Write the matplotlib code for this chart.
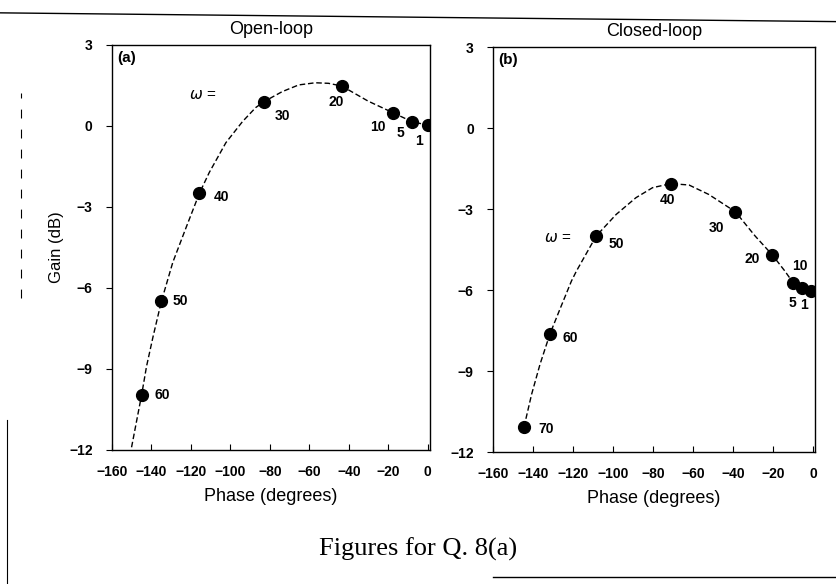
"""Open-loop vs closed-loop gain/phase (Nichols-style) plots for Q. 8(a)."""
import matplotlib.pyplot as plt
from matplotlib.lines import Line2D

plt.rcParams["font.family"] = ["Liberation Sans", "DejaVu Sans"]

# open-loop: marked frequencies and the dashed curve
open_omega = ["1", "5", "10", "20", "30", "40", "50", "60"]
open_phase = [0, -8, -17.6, -43.6, -83, -115.7, -135, -145]
open_gain = [0.03, 0.16, 0.49, 1.48, 0.9, -2.49, -6.5, -9.96]
open_curve_phase = [-150.1, -145, -142.5, -139.2, -135, -129.2, -122.4,
                    -115.7, -110.7, -102.3, -93.9, -87.2, -83, -73.8, -65.4,
                    -57, -50.3, -43.6, -30.2, -17.6, -8, 0]
open_curve_gain = [-11.9, -9.96, -8.9, -7.8, -6.5, -5.05, -3.75, -2.49,
                   -1.72, -0.62, 0.16, 0.68, 0.9, 1.27, 1.52, 1.6, 1.58,
                   1.48, 0.92, 0.49, 0.16, 0.03]

# closed-loop
closed_omega = ["1", "5", "10", "20", "30", "40", "50", "60", "70"]
closed_phase = [-0.9, -5.5, -10, -20.4, -38.9, -71.2, -108.5, -131.7, -144.6]
closed_gain = [-6.04, -5.94, -5.73, -4.7, -3.1, -2.06, -4.0, -7.64, -11.07]
closed_curve_phase = [-144.6, -140.8, -136.6, -131.7, -126.7, -120.9, -118.4,
                      -108.5, -98.5, -88.6, -80.3, -71.2, -62.1, -52.2,
                      -38.9, -29, -20.4, -14.1, -10, -5.5, -0.9]
closed_curve_gain = [-11.07, -9.86, -8.75, -7.64, -6.72, -5.67, -5.3, -4.0,
                     -3.2, -2.58, -2.21, -2.06, -2.11, -2.46, -3.1, -4.0,
                     -4.7, -5.3, -5.73, -5.94, -6.04]

x_ticks = [-160, -140, -120, -100, -80, -60, -40, -20, 0]
y_ticks = [3, 0, -3, -6, -9, -12]

# label offsets in pixels (dx right, dy down) for each marked point
open_offsets = [(-9, 16), (-12, 11), (-15, 14), (-6, 16), (18, 14),
                (22, 4), (19, 0), (21, 0)]
closed_offsets = [(-7, 14), (-10, 15), (7, -17), (-20, 4), (-19, 16),
                  (-3, 16), (20, 8), (20, 4), (22, 2)]


def draw_panel(ax, curve_x, curve_y, px, py, omegas, offsets, tag, omega_xy):
    ax.plot(curve_x, curve_y, color="black", lw=1.0, dashes=(4, 2))
    ax.plot(px, py, "o", color="black", ms=8.5, zorder=3)
    for name, x, y, (dx, dy) in zip(omegas, px, py, offsets):
        ax.annotate(name, (x, y), xytext=(dx, -dy), textcoords="offset pixels",
                    ha="center", va="center", fontsize=10, fontweight="bold")
    ax.text(omega_xy[0], omega_xy[1], "$\\omega$ =", fontsize=11,
            ha="center", va="center")
    ax.text(0.015, 0.985, tag, transform=ax.transAxes, ha="left", va="top",
            fontsize=11, fontweight="bold")
    ax.set_xlim(-160, 1)
    ax.set_ylim(-12, 3)
    ax.set_xticks(x_ticks)
    ax.set_yticks(y_ticks)
    ax.tick_params(axis="x", direction="in", length=4, pad=11, labelsize=10)
    ax.tick_params(axis="y", direction="out", length=4, pad=10, labelsize=10)
    for lab in ax.get_xticklabels() + ax.get_yticklabels():
        lab.set_fontweight("bold")
    for spine in ax.spines.values():
        spine.set_linewidth(1.0)
    ax.set_xlabel("Phase (degrees)", fontsize=13, labelpad=6)


fig = plt.figure(figsize=(8.36, 5.84), dpi=100)
ax_open = fig.add_axes([0.134, 0.2295, 0.380, 0.6935])
ax_closed = fig.add_axes([0.590, 0.226, 0.385, 0.6935])

draw_panel(ax_open, open_curve_phase, open_curve_gain, open_phase, open_gain,
           open_omega, open_offsets, "(a)", (-114, 1.15))
draw_panel(ax_closed, closed_curve_phase, closed_curve_gain, closed_phase,
           closed_gain, closed_omega, closed_offsets, "(b)", (-128, -4.07))

ax_open.set_ylabel("Gain (dB)", fontsize=12, labelpad=4)
ax_open.set_title("Open-loop", fontsize=13, pad=8)
ax_closed.set_title("Closed-loop", fontsize=13, pad=8)

fig.text(0.5, 0.06, "Figures for Q. 8(a)", ha="center", va="center",
         fontsize=19, family=["Liberation Serif", "DejaVu Serif"])

# scan edges of the printed page
fig.add_artist(Line2D([0.0, 1.0], [0.978, 0.963], color="black", lw=1.0))
fig.add_artist(Line2D([0.59, 1.0], [0.012, 0.012], color="black", lw=1.0))
fig.add_artist(Line2D([0.008, 0.008], [0.0, 0.28], color="black", lw=0.8))
fig.add_artist(Line2D([0.025, 0.025], [0.49, 0.84], color="black", lw=0.8,
                      dashes=(8, 10)))

fig.savefig("out.png", dpi=100)
